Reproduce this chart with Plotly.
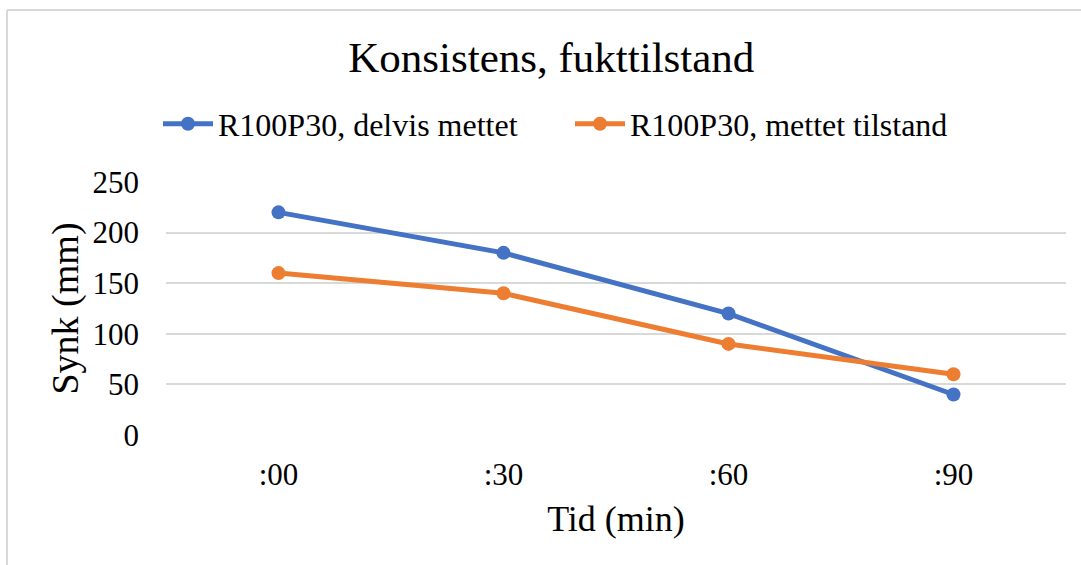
import plotly.graph_objects as go

categories = [":00", ":30", ":60", ":90"]
delvis_mettet = [220, 180, 120, 40]
mettet_tilstand = [160, 140, 90, 60]
y_ticks = [0, 50, 100, 150, 200, 250]

FONT = "Liberation Serif"

fig = go.Figure()
fig.add_trace(go.Scatter(
    x=categories, y=delvis_mettet, mode="lines+markers",
    name="R100P30, delvis mettet",
    line=dict(color="#4472C4", width=5),
    marker=dict(size=14, color="#4472C4"),
))
fig.add_trace(go.Scatter(
    x=categories, y=mettet_tilstand, mode="lines+markers",
    name="R100P30, mettet tilstand",
    line=dict(color="#ED7D31", width=5),
    marker=dict(size=14, color="#ED7D31"),
))

L, R, T, B = 166, 15, 182, 130
W, H = 1081, 565
pw, ph = W - L - R, H - T - B

def px_x(px):
    return (px - L) / pw

def px_y(py):
    return (H - B - py) / ph

fig.update_layout(
    width=W, height=H,
    margin=dict(l=L, r=R, t=T, b=B),
    paper_bgcolor="white", plot_bgcolor="white",
    font=dict(family=FONT, color="black", size=31),
    title=dict(text="Konsistens, fukttilstand", x=0.51, xanchor="center",
               y=1 - 57 / H, yanchor="middle",
               font=dict(size=43, family=FONT, color="black")),
    legend=dict(orientation="h", x=px_x(158), xanchor="left",
                y=px_y(124), yanchor="middle",
                font=dict(size=32, family=FONT, color="black"),
                bgcolor="rgba(0,0,0,0)", itemwidth=50,
                entrywidth=347, entrywidthmode="pixels"),
    showlegend=True,
    xaxis=dict(
        type="category", range=[-0.5, 3.5],
        showgrid=False, showline=False, zeroline=False,
        ticks="", ticklabelstandoff=18,
        tickfont=dict(size=31, family=FONT, color="black"),
        title=dict(text="Tid (min)", standoff=14,
                   font=dict(size=36, family=FONT, color="black")),
    ),
    yaxis=dict(
        range=[0, 250], tickvals=y_ticks,
        showgrid=True, gridcolor="#d9d9d9", gridwidth=1.5,
        zeroline=False, showline=False, ticks="",
        ticklabelstandoff=26,
        tickfont=dict(size=31, family=FONT, color="black"),
        title=dict(text="Synk (mm)", standoff=2,
                   font=dict(size=38, family=FONT, color="black")),
    ),
)

# chart-area border (left and top edges visible in reference)
bx, by = px_x(7), px_y(10)
fig.add_shape(type="line", xref="paper", yref="paper",
              x0=bx, x1=bx, y0=px_y(600), y1=by,
              line=dict(color="#d9d9d9", width=2))
fig.add_shape(type="line", xref="paper", yref="paper",
              x0=bx, x1=px_x(1100), y0=by, y1=by,
              line=dict(color="#d9d9d9", width=2))

fig.write_html("out.html")
